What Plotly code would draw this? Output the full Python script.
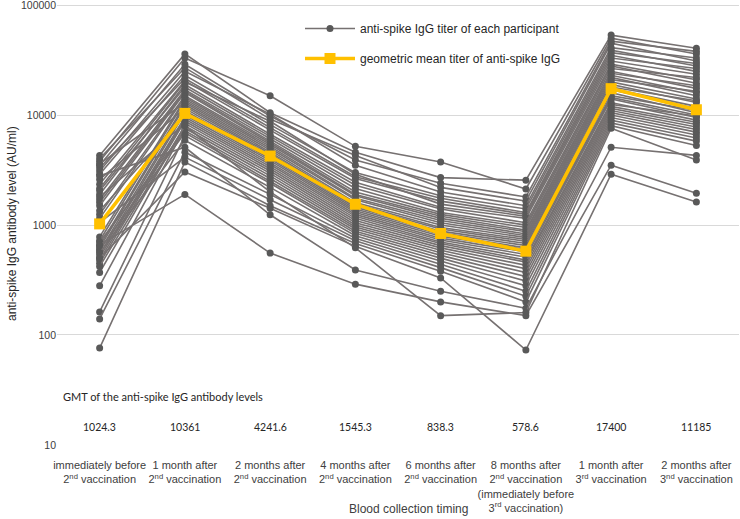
import plotly.graph_objects as go

categories = [
    "immediately before<br>2<sup>nd</sup> vaccination",
    "1 month after<br>2<sup>nd</sup> vaccination",
    "2 months after<br>2<sup>nd</sup> vaccination",
    "4 months after<br>2<sup>nd</sup> vaccination",
    "6 months after<br>2<sup>nd</sup> vaccination",
    "8 months after<br>2<sup>nd</sup> vaccination<br>(immediately before<br>3<sup>rd</sup> vaccination)",
    "1 month after<br>3<sup>rd</sup> vaccination",
    "2 months after<br>3<sup>nd</sup> vaccination",
]

gmt = [1024.3, 10361, 4241.6, 1545.3, 838.3, 578.6, 17400, 11185]

# per-timepoint participant titers (AU/ml), same participant order in each list
t1 = [4300, 3800, 3500, 4000, 3100, 2900, 3300, 2350, 2150, 1900, 2050, 1700, 1600, 1500,
      1250, 1150, 780, 720, 3600, 650, 620, 2600, 580, 540, 1350, 510, 480, 450, 1800, 370,
      280, 700, 600, 162, 560, 140, 1050, 76, 500, 2800, 660, 420]
t2 = [36000, 33000, 29000, 27000, 25000, 23000, 21500, 20500, 20000, 19000, 18000, 17000,
      16500, 16000, 15000, 14500, 14000, 13500, 13000, 12500, 12000, 11500, 11000, 10500,
      10000, 9600, 9200, 8800, 8400, 8000, 7600, 7200, 6900, 6500, 5900, 4600, 4150, 3740,
      3040, 5100, 1900, 8000]
t3 = [10500, 15000, 9800, 9200, 10200, 8200, 7700, 7300, 8800, 6700, 6400, 6100, 5800, 5600,
      5400, 5200, 5000, 4800, 4600, 4450, 4300, 4150, 4000, 3850, 3700, 3550, 3400, 3250,
      3100, 2950, 2800, 2650, 2500, 2400, 2200, 1900, 1700, 1500, 1420, 1240, 556, 2000]
t4 = [4600, 5200, 3900, 4300, 3500, 3000, 2750, 2650, 2900, 2450, 2300, 2150, 2000, 1900,
      1850, 1750, 1700, 1600, 1550, 1500, 1450, 1400, 1350, 1300, 1250, 1200, 1150, 1100,
      1050, 1000, 960, 920, 880, 840, 800, 760, 720, 680, 640, 390, 290, 620]
t5 = [2700, 3740, 2400, 2200, 2000, 1850, 1750, 1650, 1550, 1450, 1400, 1300, 1250, 1200,
      1150, 1100, 1050, 1000, 950, 920, 880, 850, 820, 790, 760, 730, 700, 680, 650, 620,
      590, 560, 530, 500, 470, 440, 410, 380, 330, 250, 200, 150]
t6 = [2560, 2130, 1800, 1650, 1500, 1400, 1300, 1250, 1200, 1150, 1050, 1000, 950, 900, 870,
      830, 800, 770, 740, 710, 680, 650, 620, 600, 570, 540, 510, 480, 460, 430, 400, 370,
      340, 310, 280, 250, 225, 200, 73, 175, 150, 160]
t7 = [53400, 50000, 47000, 45000, 41000, 39000, 37000, 35000, 33000, 31000, 29000, 28000,
      26500, 25000, 24000, 23000, 22000, 21000, 20000, 19000, 18000, 17500, 17000, 16000,
      15000, 14500, 14000, 13000, 12500, 12000, 11500, 11000, 10500, 10000, 9500, 9000, 8500,
      8000, 2900, 5100, 3500, 7600]
t8 = [40600, 36000, 38000, 31000, 33000, 28000, 29500, 25000, 26500, 23500, 21000, 19500,
      22000, 17500, 18500, 16000, 15000, 16500, 14000, 13000, 13500, 12000, 11500, 10500,
      11000, 10000, 9500, 9000, 9800, 8600, 8200, 7800, 7400, 7000, 6600, 6200, 5800, 5300,
      1620, 4300, 1950, 3900]

series = [t1, t2, t3, t4, t5, t6, t7, t8]
ytick_vals = [10, 100, 1000, 10000, 100000]
ytick_text = ["10", "100", "1000", "10000", "100000"]

LINE_GRAY = "#767171"
DOT_GRAY = "#595959"
GOLD = "#FFC000"
TXT = "#404040"
FONT = "Liberation Sans, Arial, sans-serif"

# plot area in pixels: x 57..739, y 3..445 (110 px per decade)
Y0, Y1 = 0.9995, 5.0195
TOP, BOT = 3, 445
PH = BOT - TOP

fig = go.Figure()

n = len(t1)
for i in range(n):
    fig.add_trace(go.Scatter(
        x=categories,
        y=[s[i] for s in series],
        mode="lines+markers",
        line=dict(color=LINE_GRAY, width=1.6),
        marker=dict(color=DOT_GRAY, size=7, symbol="circle"),
        name="anti-spike IgG titer of each participant",
        legendgroup="a",
        showlegend=(i == 0),
        hoverinfo="y",
    ))

fig.add_trace(go.Scatter(
    x=categories,
    y=gmt,
    mode="lines+markers",
    line=dict(color=GOLD, width=3.5),
    marker=dict(color=GOLD, size=11, symbol="square"),
    name="geometric mean titer of anti-spike IgG",
    legendgroup="b",
    showlegend=True,
))

# GMT header + values row
fig.add_annotation(
    x=0, xref="paper", xanchor="left", xshift=4,
    y=(BOT - 396) / PH, yref="paper", yanchor="middle",
    text="GMT of the anti-spike IgG antibody levels",
    showarrow=False, font=dict(family="Lato, sans-serif", size=11, color="#262626"),
)
for c, v in zip(categories, gmt):
    fig.add_annotation(
        x=c, xref="x", y=(BOT - 427) / PH, yref="paper", yanchor="middle",
        text=f"{v:g}", showarrow=False,
        font=dict(family="Lato, sans-serif", size=10.5, color="#262626"),
    )

# axis titles
fig.add_annotation(
    x=(408 - 57) / 682, xref="paper", y=(BOT - 509) / PH, yref="paper",
    text="Blood collection timing", showarrow=False,
    font=dict(family=FONT, size=12, color=TXT), yanchor="middle",
)
fig.add_annotation(
    x=-(57 - 12) / 682, xref="paper", y=(BOT - 224) / PH, yref="paper",
    text="anti-spike IgG antibody level (AU/ml)", textangle=-90, showarrow=False,
    font=dict(family=FONT, size=12, color="#262626"), xanchor="center",
)

fig.update_layout(
    width=740, height=519,
    margin=dict(l=57, r=1, t=TOP, b=519 - BOT),
    paper_bgcolor="white", plot_bgcolor="white",
    font=dict(family=FONT, size=11, color=TXT),
    legend=dict(
        x=(300 - 57) / 682, y=(BOT - 14) / PH, xanchor="left", yanchor="top",
        bgcolor="rgba(0,0,0,0)", font=dict(family=FONT, size=12, color="#262626"),
        traceorder="grouped", tracegroupgap=11, itemwidth=50,
    ),
    xaxis=dict(
        type="category", range=[-0.5, 7.5], showgrid=False, zeroline=False,
        showline=False, ticks="", tickangle=0,
        tickfont=dict(family=FONT, size=11, color=TXT),
        ticklabelstandoff=12, automargin=False,
    ),
    yaxis=dict(
        type="log", range=[Y0, Y1], tickmode="array",
        tickvals=ytick_vals, ticktext=ytick_text,
        showgrid=True, gridcolor="#d9d9d9", gridwidth=1, zeroline=False,
        showline=False, ticks="", tickfont=dict(family=FONT, size=10.5, color=TXT),
        ticklabelstandoff=0, ticklabeloverflow="allow", automargin=False,
    ),
    showlegend=True,
)

fig.write_html("out.html", config={"displayModeBar": False},
               post_script="document.body.style.margin='0';")
